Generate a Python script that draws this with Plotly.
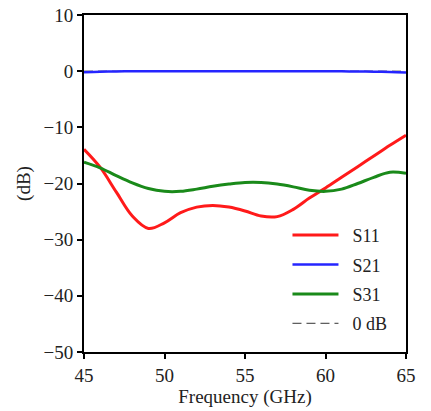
import plotly.graph_objects as go

freq = [45, 46, 47, 48, 49, 50, 51, 52, 53, 54, 55, 56, 57, 58, 59, 60, 61, 62, 63, 64, 65]
s11 = [-13.9, -17.1, -21.5, -25.8, -28.0, -27.0, -25.2, -24.2, -23.9, -24.2, -24.9, -25.8, -25.9,
       -24.6, -22.6, -20.8, -18.9, -17.0, -15.1, -13.2, -11.4]
s21 = [-0.2, -0.1, -0.05, 0.0, 0.0, 0.0, 0.0, 0.0, 0.0, 0.0, 0.0, 0.0, 0.0, 0.0, 0.0, 0.0,
       -0.03, -0.06, -0.1, -0.15, -0.25]
s31 = [-16.2, -17.2, -18.6, -19.9, -20.9, -21.4, -21.4, -21.0, -20.5, -20.1, -19.8, -19.8, -20.1,
       -20.6, -21.2, -21.4, -21.0, -20.0, -18.9, -18.0, -18.2]
zero_db = [0.0] * len(freq)
names = ["S11", "S21", "S31", "0 dB"]

font = "Liberation Serif, Times New Roman, serif"
pad = "\u00a0\u00a0"
fig = go.Figure()
fig.add_trace(go.Scatter(x=freq, y=zero_db, name=pad + names[3], mode="lines",
                         line=dict(color="#333333", width=1, dash="9px,5px"), legendgroup="d", legendrank=4))
fig.add_trace(go.Scatter(x=freq, y=s11, name=pad + names[0], mode="lines", line_shape="spline",
                         line=dict(color="#ff1a1a", width=3), legendgroup="a", legendrank=1))
fig.add_trace(go.Scatter(x=freq, y=s21, name=pad + names[1], mode="lines", line_shape="spline",
                         line=dict(color="#2525ff", width=2.5), legendgroup="b", legendrank=2))
fig.add_trace(go.Scatter(x=freq, y=s31, name=pad + names[2], mode="lines", line_shape="spline",
                         line=dict(color="#1a8a1a", width=3), legendgroup="c", legendrank=3))

axis_common = dict(showline=True, linecolor="black", linewidth=2, mirror=True, ticks="outside",
                   ticklen=5, tickwidth=2, tickcolor="black", showgrid=False, zeroline=False,
                   automargin=False, tickfont=dict(family=font, size=19, color="#222"))
fig.update_layout(
    width=431, height=411,
    margin=dict(l=84, r=25, t=15, b=59),
    paper_bgcolor="white", plot_bgcolor="white",
    font=dict(family=font, size=18, color="#222"),
    xaxis=dict(range=[45, 65], tickvals=[45, 50, 55, 60, 65],
               title=dict(text="Frequency (GHz)", standoff=2, font=dict(size=19)),
               **axis_common),
    yaxis=dict(range=[-50, 10], tickvals=[10, 0, -10, -20, -30, -40, -50],
               ticktext=["10", "0", "\u221210", "\u221220", "\u221230", "\u221240", "\u221250"],
               title=dict(text="(dB)", standoff=8, font=dict(size=19)), **axis_common),
    legend=dict(x=0.958, y=0.03, xanchor="right", yanchor="bottom", bgcolor="rgba(255,255,255,0)",
                itemwidth=46, traceorder="grouped", tracegroupgap=3,
                font=dict(family=font, size=18, color="#222")),
)
fig.write_html("out.html")
